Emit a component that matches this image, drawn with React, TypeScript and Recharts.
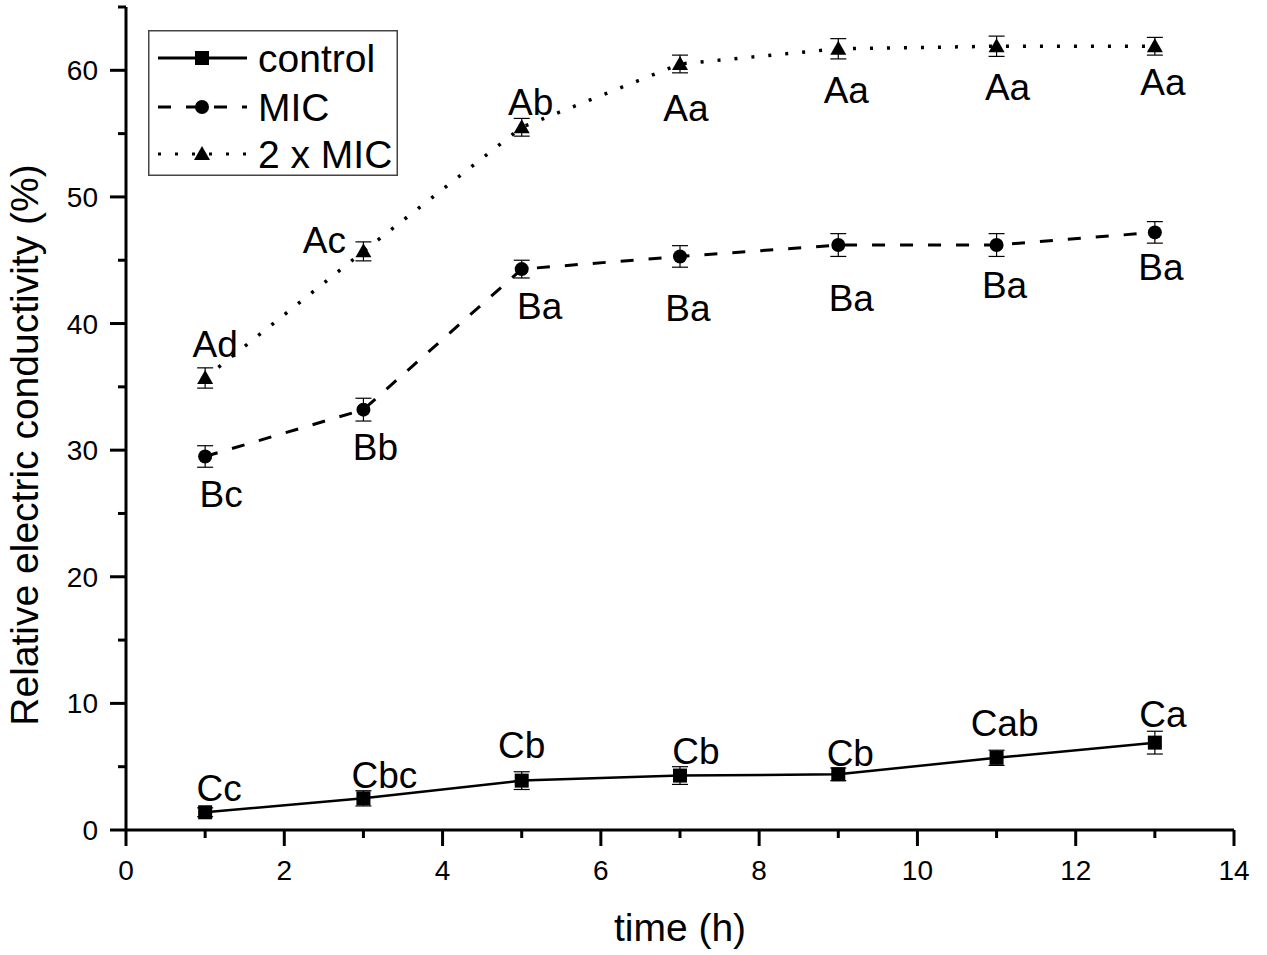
import React from 'react'
import { LineChart, Line, XAxis, YAxis, ErrorBar, LabelList, Legend, Label } from 'recharts'

const times = [1, 3, 5, 7, 9, 11, 13]
const control = [1.4, 2.5, 3.9, 4.3, 4.4, 5.7, 6.9]
const controlErr = [0.35, 0.6, 0.7, 0.7, 0.5, 0.6, 0.9]
const mic = [29.5, 33.2, 44.3, 45.3, 46.2, 46.2, 47.2]
const micErr = [0.85, 0.9, 0.7, 0.85, 0.9, 0.9, 0.85]
const mic2 = [35.7, 45.7, 55.5, 60.5, 61.7, 61.9, 61.9]
const mic2Err = [0.8, 0.75, 0.7, 0.7, 0.8, 0.8, 0.7]
const controlLetters = ['Cc', 'Cbc', 'Cb', 'Cb', 'Cb', 'Cab', 'Ca']
const micLetters = ['Bc', 'Bb', 'Ba', 'Ba', 'Ba', 'Ba', 'Ba']
const mic2Letters = ['Ad', 'Ac', 'Ab', 'Aa', 'Aa', 'Aa', 'Aa']
const xTicks = [0, 1, 2, 3, 4, 5, 6, 7, 8, 9, 10, 11, 12, 13, 14]
const yTicks = [0, 5, 10, 15, 20, 25, 30, 35, 40, 45, 50, 55, 60, 65]

// where each letter sits relative to its point (px)
const controlOffsets = [[14, -24], [21, -23], [0, -36], [16, -25], [12, -21], [8, -35], [8, -29]]
const micOffsets = [[16, 38], [12, 37], [18, 37], [8, 52], [13, 53], [8, 40], [6, 35]]
const mic2Offsets = [[10, -34], [-39, -11], [9, -25], [6, 44], [8, 41], [11, 41], [8, 36]]

const rows = times.map((t, i) => ({
  t,
  control: control[i],
  controlErr: controlErr[i],
  controlLabel: controlLetters[i],
  mic: mic[i],
  micErr: micErr[i],
  micLabel: micLetters[i],
  mic2: mic2[i],
  mic2Err: mic2Err[i],
  mic2Label: mic2Letters[i],
}))

const FONT = '"Liberation Sans", Arial, sans-serif'
const INK = '#000'

const XTick = (props: any) => {
  const { x, y, payload } = props
  const major = payload.value % 2 === 0
  return (
    <g>
      <line x1={x} y1={y} x2={x} y2={y + (major ? 16 : 8)} stroke={INK} strokeWidth={3} />
      {major && (
        <text x={x} y={y + 50} textAnchor="middle" fontSize={28} fontFamily={FONT} fill={INK}>
          {payload.value}
        </text>
      )}
    </g>
  )
}

const YTick = (props: any) => {
  const { x, y, payload } = props
  const major = payload.value % 10 === 0
  return (
    <g>
      <line x1={x} y1={y} x2={x - (major ? 16 : 8)} y2={y} stroke={INK} strokeWidth={3} />
      {major && (
        <text x={x - 28} y={y + 10} textAnchor="end" fontSize={28} fontFamily={FONT} fill={INK}>
          {payload.value}
        </text>
      )}
    </g>
  )
}

const squareDot = (p: any) => (
  <rect key={`s${p.index}`} x={p.cx - 7} y={p.cy - 7} width={14} height={14} fill={INK} />
)
const circleDot = (p: any) => <circle key={`c${p.index}`} cx={p.cx} cy={p.cy} r={7} fill={INK} />
const triangleDot = (p: any) => (
  <polygon
    key={`t${p.index}`}
    points={`${p.cx},${p.cy - 8} ${p.cx - 8},${p.cy + 6} ${p.cx + 8},${p.cy + 6}`}
    fill={INK}
  />
)

const letterLabel = (offsets: number[][]) => (p: any) => {
  const [dx, dy] = offsets[p.index]
  return (
    <text
      x={p.x + dx}
      y={p.y + dy + 13}
      textAnchor="middle"
      fontSize={37}
      fontFamily={FONT}
      fill={INK}
    >
      {p.value}
    </text>
  )
}

const LegendBox = () => {
  const entries = [
    { name: 'control', dash: undefined, marker: 'square', y: 28 },
    { name: 'MIC', dash: '13 15', marker: 'circle', y: 77 },
    { name: '2 x MIC', dash: '3 14', marker: 'triangle', y: 124 },
  ]
  return (
    <svg width={250} height={146} style={{ display: 'block' }}>
      <rect x={0.75} y={0.75} width={248.5} height={144.5} fill="#fff" stroke="#444" strokeWidth={1.5} />
      {entries.map((e) => (
        <g key={e.name}>
          <line x1={10} y1={e.y} x2={99} y2={e.y} stroke={INK} strokeWidth={3} strokeDasharray={e.dash} />
          {e.marker === 'square' && <rect x={47} y={e.y - 7} width={14} height={14} fill={INK} />}
          {e.marker === 'circle' && <circle cx={54} cy={e.y} r={7} fill={INK} />}
          {e.marker === 'triangle' && (
            <polygon points={`54,${e.y - 8} 46,${e.y + 6} 62,${e.y + 6}`} fill={INK} />
          )}
          <text x={110} y={e.y + 14} fontSize={39} fontFamily={FONT} fill={INK}>
            {e.name}
          </text>
        </g>
      ))}
    </svg>
  )
}

export default function App() {
  return (
    <div style={{ position: 'absolute', left: 0, top: 0, width: 1267, height: 955, overflow: 'hidden', background: '#fff' }}>
      <LineChart
        width={1267}
        height={955}
        data={rows}
        margin={{ top: 7, right: 33, bottom: 0, left: 0 }}
        style={{ fontFamily: FONT }}
      >
        <XAxis
          dataKey="t"
          type="number"
          domain={[0, 14]}
          ticks={xTicks}
          interval={0}
          height={125}
          tickSize={0}
          tickMargin={0}
          tickLine={false}
          tick={<XTick />}
          axisLine={{ stroke: INK, strokeWidth: 3 }}
        >
          <Label
            content={(p: any) => (
              <text
                x={p.viewBox.x + p.viewBox.width / 2}
                y={941}
                textAnchor="middle"
                fontSize={39}
                fontFamily={FONT}
                fill={INK}
              >
                time (h)
              </text>
            )}
          />
        </XAxis>
        <YAxis
          type="number"
          domain={[0, 65]}
          ticks={yTicks}
          interval={0}
          width={126}
          tickSize={0}
          tickMargin={0}
          tickLine={false}
          tick={<YTick />}
          axisLine={{ stroke: INK, strokeWidth: 3 }}
        >
          <Label
            content={() => (
              <text
                x={38}
                y={445}
                transform="rotate(-90, 38, 445)"
                textAnchor="middle"
                fontSize={39}
                fontFamily={FONT}
                fill={INK}
              >
                Relative electric conductivity (%)
              </text>
            )}
          />
        </YAxis>
        <Legend
          layout="vertical"
          align="center"
          verticalAlign="middle"
          content={<LegendBox />}
          wrapperStyle={{ left: 148, top: 30, width: 250, height: 146 }}
        />
        <Line
          dataKey="control"
          name="control"
          type="linear"
          stroke={INK}
          strokeWidth={2.5}
          dot={squareDot}
          activeDot={false}
          isAnimationActive={false}
        >
          <ErrorBar dataKey="controlErr" width={8} stroke={INK} strokeWidth={1.2} direction="y" />
          <LabelList dataKey="controlLabel" content={letterLabel(controlOffsets)} />
        </Line>
        <Line
          dataKey="mic"
          name="MIC"
          type="linear"
          stroke={INK}
          strokeWidth={3}
          strokeDasharray="13 15"
          dot={circleDot}
          activeDot={false}
          isAnimationActive={false}
        >
          <ErrorBar dataKey="micErr" width={8} stroke={INK} strokeWidth={1.2} direction="y" />
          <LabelList dataKey="micLabel" content={letterLabel(micOffsets)} />
        </Line>
        <Line
          dataKey="mic2"
          name="2 x MIC"
          type="linear"
          stroke={INK}
          strokeWidth={3.5}
          strokeDasharray="3 14"
          dot={triangleDot}
          activeDot={false}
          isAnimationActive={false}
        >
          <ErrorBar dataKey="mic2Err" width={8} stroke={INK} strokeWidth={1.2} direction="y" />
          <LabelList dataKey="mic2Label" content={letterLabel(mic2Offsets)} />
        </Line>
      </LineChart>
    </div>
  )
}
